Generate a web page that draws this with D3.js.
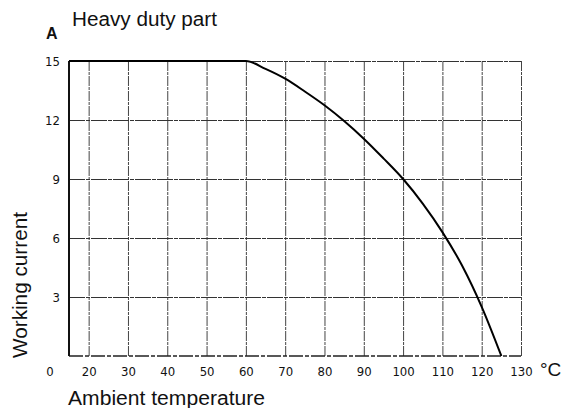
<!DOCTYPE html>
<html>
<head>
<meta charset="utf-8">
<script src="https://cdn.jsdelivr.net/npm/d3@7"></script>
<style>
  body { margin: 0; background: #fff; }
  svg { display: block; }
  .tick text { font-family: "DejaVu Sans Condensed", "DejaVu Sans", sans-serif; font-size: 13px; fill: #111; }
  .lbl { font-family: "Liberation Sans", Arial, sans-serif; fill: #111; }
</style>
</head>
<body>
<div id="chart"></div>
<script>
// chart data
var temps    = [15, 60, 65, 70, 75, 80, 85, 90, 95, 100, 105, 110, 115, 120, 125];
var currents = [15, 15, 14.6, 14.1, 13.45, 12.75, 11.95, 11.05, 10.05, 9, 7.75, 6.3, 4.6, 2.5, 0];
var xTicks = [20, 30, 40, 50, 60, 70, 80, 90, 100, 110, 120, 130];
var yTicks = [3, 6, 9, 12, 15];

var svgWidth = 564;
var svgHeight = 408;
var margin = { top: 61, right: 43, bottom: 52, left: 69 };
var width = svgWidth - margin.left - margin.right;
var height = svgHeight - margin.top - margin.bottom;

var svg = d3.select("#chart").append("svg")
    .attr("width", svgWidth)
    .attr("height", svgHeight);

var g = svg.append("g")
    .attr("transform", `translate(${margin.left}, ${margin.top})`);

var x = d3.scaleLinear().domain([15, 130]).range([0, width]);
var y = d3.scaleLinear().domain([0, 15]).range([height, 0]);

// vertical grid + x labels
var xAxis = g.append("g")
    .attr("transform", `translate(0, ${height})`)
    .call(d3.axisBottom(x).tickValues(xTicks).tickSize(-height).tickPadding(11));
xAxis.select(".domain").remove();
xAxis.selectAll("line")
    .attr("stroke", "#444")
    .attr("stroke-width", 1)
    .attr("stroke-dasharray", "10,1,3,1");

// horizontal grid + y labels
var yAxis = g.append("g")
    .call(d3.axisLeft(y).tickValues(yTicks).tickSize(-width).tickPadding(9));
yAxis.select(".domain").remove();
yAxis.selectAll("line")
    .attr("stroke", "#333")
    .attr("stroke-width", 1)
    .attr("stroke-dasharray", "16,1,4,1");

// baseline (dashed at left)
g.append("line")
    .attr("x1", x(15)).attr("x2", x(130))
    .attr("y1", y(0)).attr("y2", y(0))
    .attr("stroke", "#222")
    .attr("stroke-width", 1.5)
    .attr("stroke-dasharray", "14,2,4,2");

// left axis
g.append("line")
    .attr("x1", x(15)).attr("x2", x(15))
    .attr("y1", y(15)).attr("y2", y(0))
    .attr("stroke", "#111")
    .attr("stroke-width", 2);

// derating curve
var line = d3.line()
    .x((d, i) => x(temps[i]))
    .y(d => y(d))
    .curve(d3.curveMonotoneX);

g.append("path")
    .datum(currents)
    .attr("fill", "none")
    .attr("stroke", "#000")
    .attr("stroke-width", 2)
    .attr("d", line);

// origin label
g.append("text")
    .attr("class", "lbl")
    .attr("x", -19)
    .attr("y", height + 20)
    .attr("text-anchor", "middle")
    .style("font-family", "'DejaVu Sans Condensed', sans-serif")
    .style("font-size", "13px")
    .text("0");

// titles
svg.append("text")
    .attr("class", "lbl")
    .attr("x", 72).attr("y", 26)
    .style("font-size", "20px")
    .attr("textLength", 145)
    .attr("lengthAdjust", "spacingAndGlyphs")
    .text("Heavy duty part");

svg.append("text")
    .attr("class", "lbl")
    .attr("x", 46).attr("y", 39)
    .style("font-size", "16px")
    .style("font-weight", "bold")
    .text("A");

svg.append("text")
    .attr("class", "lbl")
    .attr("x", 68).attr("y", 405)
    .style("font-size", "20px")
    .attr("textLength", 197)
    .attr("lengthAdjust", "spacingAndGlyphs")
    .text("Ambient temperature");

svg.append("text")
    .attr("class", "lbl")
    .attr("x", 540).attr("y", 376)
    .style("font-size", "19px")
    .text("°C");

svg.append("text")
    .attr("class", "lbl")
    .attr("transform", "translate(27, 358) rotate(-90)")
    .style("font-size", "20px")
    .attr("textLength", 146)
    .attr("lengthAdjust", "spacingAndGlyphs")
    .text("Working current");
</script>
</body>
</html>
